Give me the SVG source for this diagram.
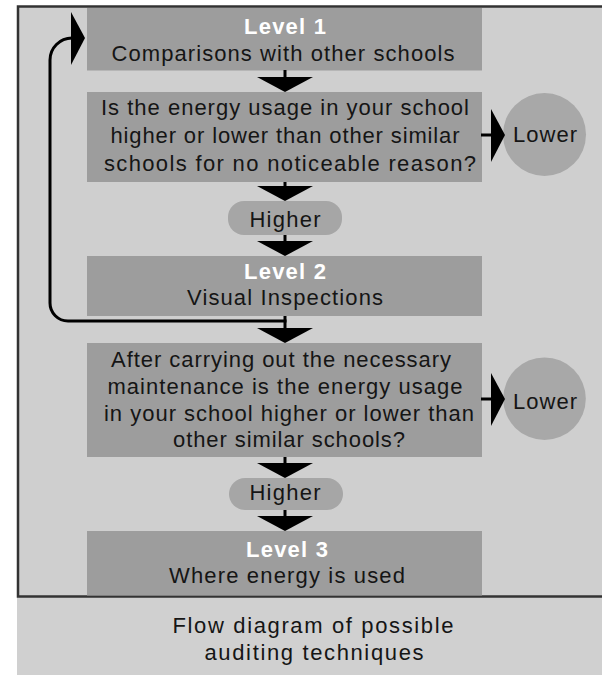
<svg xmlns="http://www.w3.org/2000/svg" xmlns:xlink="http://www.w3.org/1999/xlink" width="602" height="676" viewBox="0 0 602 676">
<style>
.box{fill:#9d9d9d}
.pill{fill:#a6a6a6}
.circ{fill:#a8a8a8}
.t{font-family:"Liberation Sans",Arial,sans-serif;font-size:22px;fill:#151515;text-anchor:middle}
.lv{font-family:"Liberation Sans",Arial,sans-serif;font-size:22px;font-weight:bold;fill:#ffffff;text-anchor:middle}
.ln{stroke:#000;stroke-width:3;fill:none}
.ah{fill:#000}
</style>
<defs>
<polygon id="down" points="-28,0 28,0 0,15"/>
<polygon id="right" points="0,-26 14,0 0,27"/>
</defs>
<rect x="0" y="0" width="602" height="676" fill="#ffffff"/>
<rect x="17" y="597" width="590" height="78" fill="#d0d0d0"/>
<rect x="18" y="6.5" width="600" height="590" fill="#cfcfcf" stroke="#333" stroke-width="2.5"/>

<g id="level1">
<rect class="box" x="87" y="8" width="395" height="62.5"/>
<text class="lv" x="285" y="34" textLength="82">Level 1</text>
<text class="t" x="283" y="61" textLength="343">Comparisons with other schools</text>
</g>
<g id="q1">
<rect class="box" x="87" y="92" width="395" height="90"/>
<text class="t" x="285" y="115" textLength="368">Is the energy usage in your school</text>
<text class="t" x="285" y="143" textLength="349">higher or lower than other similar</text>
<text class="t" x="290" y="171" textLength="372">schools for no noticeable reason?</text>
</g>
<g id="lower1">
<circle class="circ" cx="544.5" cy="134.5" r="41.5"/>
<text class="t" x="545" y="142" textLength="64">Lower</text>
</g>
<g id="higher1">
<rect class="pill" x="228" y="201" width="114" height="34" rx="16"/>
<text class="t" x="285" y="227" textLength="71">Higher</text>
</g>
<g id="level2">
<rect class="box" x="87" y="256" width="395" height="60"/>
<text class="lv" x="285" y="279" textLength="82">Level 2</text>
<text class="t" x="285" y="305" textLength="196">Visual Inspections</text>
</g>
<g id="q2">
<rect class="box" x="87" y="343" width="395" height="114"/>
<text class="t" x="281" y="367" textLength="340">After carrying out the necessary</text>
<text class="t" x="285" y="393.5" textLength="355">maintenance is the energy usage</text>
<text class="t" x="289" y="420.5" textLength="370">in your school higher or lower than</text>
<text class="t" x="289" y="447" textLength="232">other similar schools?</text>
</g>
<g id="lower2">
<circle class="circ" cx="544.5" cy="398.7" r="41.3"/>
<text class="t" x="545" y="409" textLength="64">Lower</text>
</g>
<g id="higher2">
<rect class="pill" x="229" y="478" width="114" height="32" rx="16"/>
<text class="t" x="285" y="499.5" textLength="71">Higher</text>
</g>
<g id="level3">
<rect class="box" x="87" y="531" width="395" height="64.5"/>
<text class="lv" x="287" y="557" textLength="82">Level 3</text>
<text class="t" x="287" y="583" textLength="236">Where energy is used</text>
</g>
<g id="caption">
<text class="t" x="313" y="633" textLength="281">Flow diagram of possible</text>
<text class="t" x="314" y="660" textLength="219">auditing techniques</text>
</g>

<g id="connectors">
<line class="ln" x1="285" y1="70" x2="285" y2="78"/>
<use xlink:href="#down" class="ah" x="285" y="77"/>
<line class="ln" x1="285" y1="182" x2="285" y2="187"/>
<use xlink:href="#down" class="ah" x="285" y="186"/>
<line class="ln" x1="285" y1="235" x2="285" y2="242"/>
<use xlink:href="#down" class="ah" x="285" y="241"/>
<line class="ln" x1="285" y1="316" x2="285" y2="329"/>
<use xlink:href="#down" class="ah" x="285" y="328"/>
<line class="ln" x1="285" y1="457" x2="285" y2="464"/>
<use xlink:href="#down" class="ah" x="285" y="463"/>
<line class="ln" x1="285" y1="510" x2="285" y2="517"/>
<use xlink:href="#down" class="ah" x="285" y="516"/>
<line class="ln" x1="481" y1="135" x2="492" y2="135"/>
<use xlink:href="#right" class="ah" x="491" y="135"/>
<line class="ln" x1="481" y1="399" x2="492" y2="399"/>
<use xlink:href="#right" class="ah" x="491" y="399"/>
<path class="ln" d="M286.5,321 H68 A18,18 0 0 1 50,303 V60 A22,22 0 0 1 72,38"/>
<use xlink:href="#right" class="ah" x="71" y="38"/>
</g>
</svg>
